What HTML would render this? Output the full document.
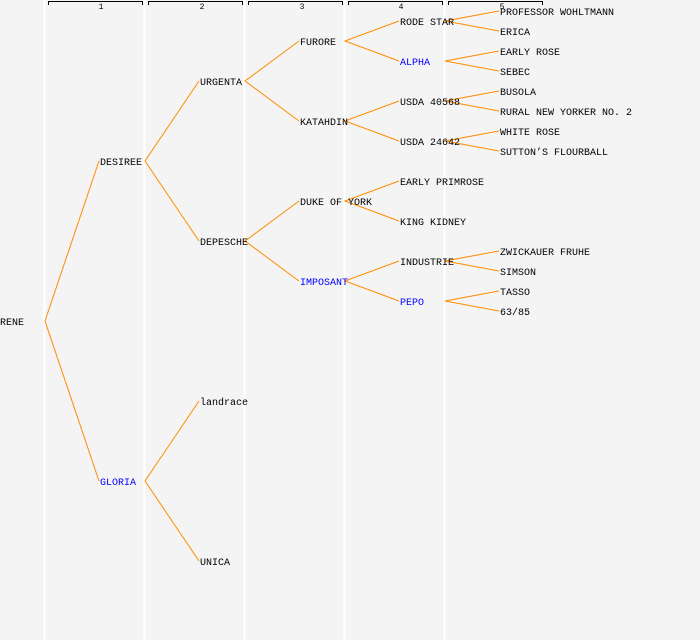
<!DOCTYPE html>
<html><head><meta charset="utf-8"><style>
html,body{margin:0;padding:0;background:#f4f4f4;}
svg{display:block;}
text{font-family:"Liberation Mono","DejaVu Sans Mono",monospace;font-size:10px;fill:#000;}
.b{fill:#0000ff;}
.h{font-size:8px;}
</style></head><body>
<svg width="700" height="640" viewBox="0 0 700 640">
<rect width="700" height="640" fill="#f4f4f4"/>
<g stroke="#ffffff" stroke-width="2">
<line x1="44.5" y1="0" x2="44.5" y2="640"/>
<line x1="144.5" y1="0" x2="144.5" y2="640"/>
<line x1="244.5" y1="0" x2="244.5" y2="640"/>
<line x1="344.5" y1="0" x2="344.5" y2="640"/>
<line x1="444.5" y1="0" x2="444.5" y2="640"/>
</g>
<g stroke="#000" stroke-width="1" fill="none">
<path d="M48.5 5V1.5H142.5V5"/>
<path d="M148.5 5V1.5H242.5V5"/>
<path d="M248.5 5V1.5H342.5V5"/>
<path d="M348.5 5V1.5H442.5V5"/>
<path d="M448.5 5V1.5H542.5V5"/>
</g>
<g text-anchor="middle" class="h">
<text x="101" y="9" class="h">1</text>
<text x="202" y="9" class="h">2</text>
<text x="302" y="9" class="h">3</text>
<text x="401" y="9" class="h">4</text>
<text x="502" y="9" class="h">5</text>
</g>
<g stroke="#ff8c00" stroke-width="1" fill="none">
<path d="M99 161L45 321L99 481"/>
<path d="M199 81L145 161L199 241"/>
<path d="M199 401L145 481L199 561"/>
<path d="M299 41L245 81L299 121"/>
<path d="M299 201L245 241L299 281"/>
<path d="M399 21L345 41L399 61"/>
<path d="M399 101L345 121L399 141"/>
<path d="M399 181L345 201L399 221"/>
<path d="M399 261L345 281L399 301"/>
<path d="M499 11L445 21L499 31"/>
<path d="M499 51L445 61L499 71"/>
<path d="M499 91L445 101L499 111"/>
<path d="M499 131L445 141L499 151"/>
<path d="M499 251L445 261L499 271"/>
<path d="M499 291L445 301L499 311"/>
</g>
<g>
<text x="0" y="325">RENE</text>
<text x="100" y="165">DESIREE</text>
<text x="100" y="485" class="b">GLORIA</text>
<text x="200" y="85">URGENTA</text>
<text x="200" y="245">DEPESCHE</text>
<text x="200" y="405">landrace</text>
<text x="200" y="565">UNICA</text>
<text x="300" y="45">FURORE</text>
<text x="300" y="125">KATAHDIN</text>
<text x="300" y="205">DUKE OF YORK</text>
<text x="300" y="285" class="b">IMPOSANT</text>
<text x="400" y="25">RODE STAR</text>
<text x="400" y="65" class="b">ALPHA</text>
<text x="400" y="105">USDA 40568</text>
<text x="400" y="145">USDA 24642</text>
<text x="400" y="185">EARLY PRIMROSE</text>
<text x="400" y="225">KING KIDNEY</text>
<text x="400" y="265">INDUSTRIE</text>
<text x="400" y="305" class="b">PEPO</text>
<text x="500" y="15">PROFESSOR WOHLTMANN</text>
<text x="500" y="35">ERICA</text>
<text x="500" y="55">EARLY ROSE</text>
<text x="500" y="75">SEBEC</text>
<text x="500" y="95">BUSOLA</text>
<text x="500" y="115">RURAL NEW YORKER NO. 2</text>
<text x="500" y="135">WHITE ROSE</text>
<text x="500" y="155">SUTTON’S FLOURBALL</text>
<text x="500" y="255">ZWICKAUER FRUHE</text>
<text x="500" y="275">SIMSON</text>
<text x="500" y="295">TASSO</text>
<text x="500" y="315">63/85</text>
</g>
</svg>
</body></html>
